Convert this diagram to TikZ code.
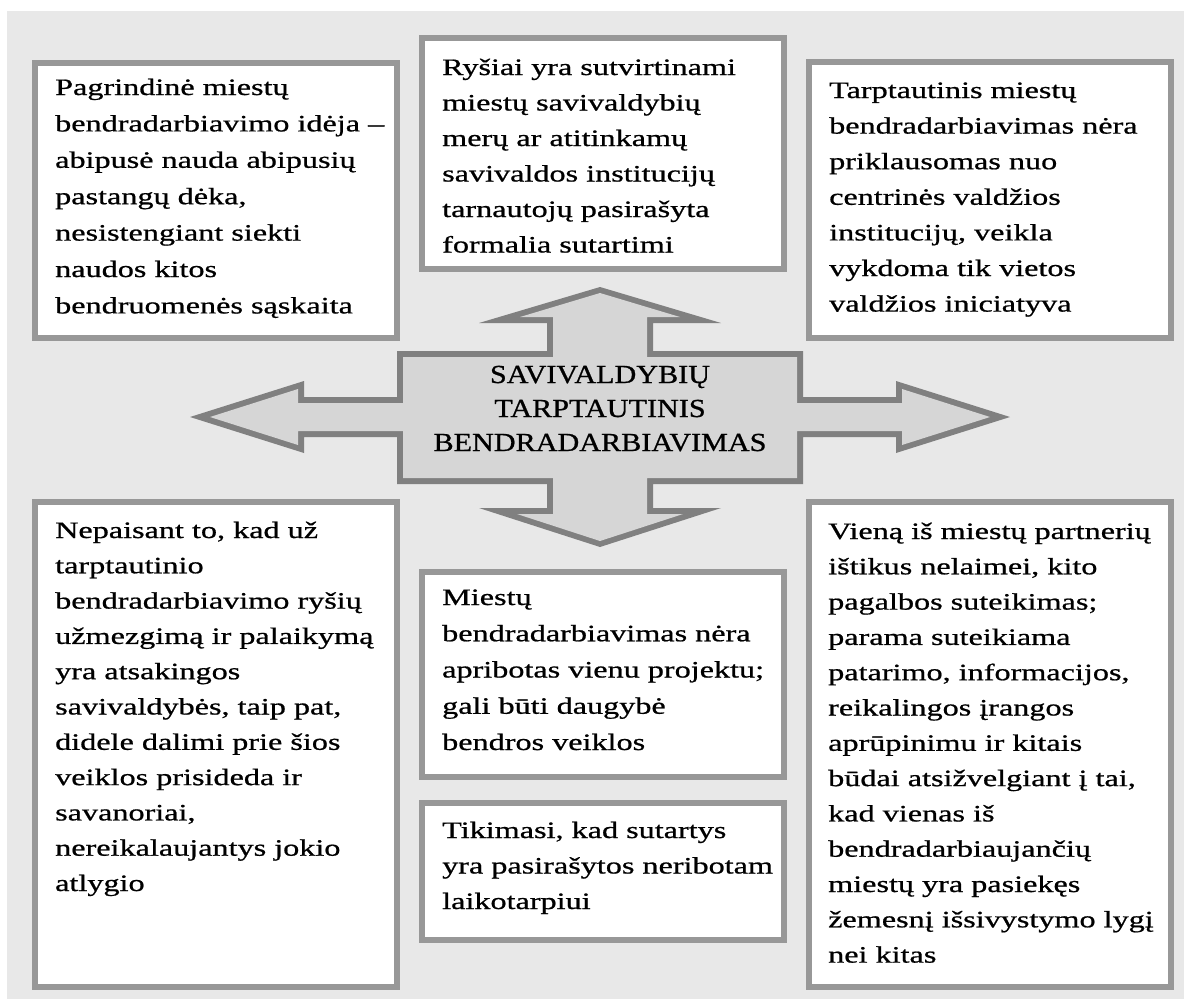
\documentclass[tikz,border=0pt]{standalone}
\usepackage{fontspec}
\setmainfont[FakeStretch=1.37,FakeBold=0.8]{Liberation Serif}
\newfontfamily\ctrfont[FakeStretch=1.16,FakeBold=0.8]{Liberation Serif}
\definecolor{bgc}{RGB}{232,232,232}
\definecolor{boxc}{RGB}{152,152,152}
\definecolor{arrc}{RGB}{128,128,128}
\definecolor{arrf}{RGB}{214,214,214}
\newcommand{\bodytext}[2]{\parbox[t]{420pt}{\fontsize{23.5}{#1}\selectfont #2}}
\begin{document}
\begin{tikzpicture}[x=1pt,y=-1pt,
  box/.style={draw=boxc, line width=6pt, fill=white, inner sep=0pt, anchor=north west},
  txt/.style={anchor=base west, inner sep=0pt, text=black}]
\useasboundingbox (0,0) rectangle (1184,999);
\fill[white] (0,0) rectangle (1184,999);
\fill[bgc] (7,11) rectangle (1184,999);

% central cross arrow
\fill[arrc] (600,287) -- (721,323) -- (653,323) -- (653,351) -- (803,351) -- (803,397) -- (896,397) -- (896,381) -- (1010,417) -- (896,453) -- (896,437) -- (803,437) -- (803,484) -- (653,484) -- (653,508) -- (721,508) -- (600,547) -- (479,508) -- (547,508) -- (547,484) -- (397,484) -- (397,437) -- (304,437) -- (304,453) -- (190,417) -- (304,381) -- (304,397) -- (397,397) -- (397,351) -- (547,351) -- (547,323) -- (479,323) -- cycle;
\fill[arrf] (600,293) -- (680,317) -- (647,317) -- (647,357) -- (797,357) -- (797,403) -- (902,403) -- (902,389) -- (990,417) -- (902,445) -- (902,431) -- (797,431) -- (797,478) -- (647,478) -- (647,514) -- (683,514) -- (600,541) -- (517,514) -- (553,514) -- (553,478) -- (403,478) -- (403,431) -- (298,431) -- (298,445) -- (210,417) -- (298,389) -- (298,403) -- (403,403) -- (403,357) -- (553,357) -- (553,317) -- (520,317) -- cycle;
\node[anchor=base, inner sep=0pt] (ctr) at (600,383) {\parbox[t]{420pt}{\centering\ctrfont\fontsize{26}{34}\selectfont SAVIVALDYBIŲ\\TARPTAUTINIS\\BENDRADARBIAVIMAS}};

% boxes
\node[box, minimum width=362pt, minimum height=275pt] (b1) at (32,60) {};
\node[box, minimum width=362pt, minimum height=231pt] (b2) at (419,35) {};
\node[box, minimum width=362pt, minimum height=276pt] (b3) at (806,59) {};
\node[box, minimum width=362pt, minimum height=485pt] (b4) at (32,499) {};
\node[box, minimum width=362pt, minimum height=205pt] (b5) at (419,569) {};
\node[box, minimum width=362pt, minimum height=137pt] (b6) at (419,800) {};
\node[box, minimum width=362pt, minimum height=485pt] (b7) at (806,499) {};

% texts
\node[txt] (t1) at (55,95) {\bodytext{36.4}{Pagrindinė miestų\\bendradarbiavimo idėja –\\abipusė nauda abipusių\\pastangų dėka,\\nesistengiant siekti\\naudos kitos\\bendruomenės sąskaita}};
\node[txt] (t2) at (442,75) {\bodytext{35.5}{Ryšiai yra sutvirtinami\\miestų savivaldybių\\merų ar atitinkamų\\savivaldos institucijų\\tarnautojų pasirašyta\\formalia sutartimi}};
\node[txt] (t3) at (829,98) {\bodytext{35.6}{Tarptautinis miestų\\bendradarbiavimas nėra\\priklausomas nuo\\centrinės valdžios\\institucijų, veikla\\vykdoma tik vietos\\valdžios iniciatyva}};
\node[txt] (t4) at (55,538) {\bodytext{35.3}{Nepaisant to, kad už\\tarptautinio\\bendradarbiavimo ryšių\\užmezgimą ir palaikymą\\yra atsakingos\\savivaldybės, taip pat,\\didele dalimi prie šios\\veiklos prisideda ir\\savanoriai,\\nereikalaujantys jokio\\atlygio}};
\node[txt] (t5) at (442,605) {\bodytext{36.25}{Miestų\\bendradarbiavimas nėra\\apribotas vienu projektu;\\gali būti daugybė\\bendros veiklos}};
\node[txt] (t6) at (442,838) {\bodytext{35.5}{Tikimasi, kad sutartys\\yra pasirašytos neribotam\\laikotarpiui}};
\node[txt] (t7) at (828,539) {\bodytext{35.3}{Vieną iš miestų partnerių\\ištikus nelaimei, kito\\pagalbos suteikimas;\\parama suteikiama\\patarimo, informacijos,\\reikalingos įrangos\\aprūpinimu ir kitais\\būdai atsižvelgiant į tai,\\kad vienas iš\\bendradarbiaujančių\\miestų yra pasiekęs\\žemesnį išsivystymo lygį\\nei kitas}};
\end{tikzpicture}
\end{document}
